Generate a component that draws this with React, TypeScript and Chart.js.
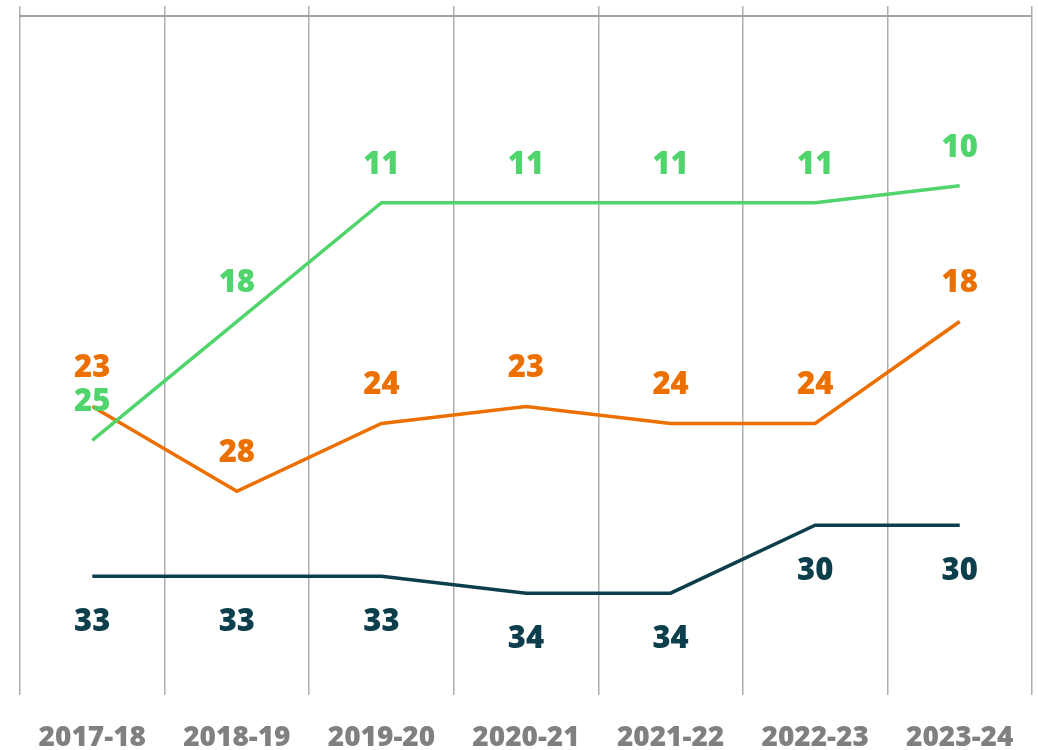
import React, { useEffect, useRef } from "react";
import { Chart, registerables } from "chart.js";

Chart.register(...registerables);

const categories = ["2017-18", "2018-19", "2019-20", "2020-21", "2021-22", "2022-23", "2023-24"];
const greenValues = [25, 18, 11, 11, 11, 11, 10];
const orangeValues = [23, 28, 24, 23, 24, 24, 18];
const darkValues = [33, 33, 33, 34, 34, 30, 30];

const GREEN = "#50D46C";
const ORANGE = "#EC7000";
const DARK = "#0C3F4B";
const FONT = "'Open Sans', Lato, sans-serif";

const labelPlugin = {
  id: "pointLabels",
  afterDatasetsDraw(chart: any) {
    const ctx = chart.ctx;
    ctx.save();
    ctx.font = `800 31px ${FONT}`;
    ctx.textAlign = "center";
    ctx.textBaseline = "middle";
    chart.data.datasets.forEach((ds: any, i: number) => {
      const meta = chart.getDatasetMeta(i);
      ctx.fillStyle = ds.borderColor;
      const off = ds.labelOffset as number;
      meta.data.forEach((el: any, j: number) => {
        ctx.fillText(String(ds.data[j]), el.x, el.y + off);
      });
    });
    ctx.restore();
  },
};

export default function App() {
  const ref = useRef<HTMLCanvasElement>(null);
  useEffect(() => {
    document.body.style.margin = "0";
    const chart = new Chart(ref.current!, {
      type: "line",
      data: {
        labels: categories,
        datasets: [
          { data: greenValues, borderColor: GREEN, borderWidth: 3.5, pointRadius: 0, tension: 0, labelOffset: -38 } as any,
          { data: orangeValues, borderColor: ORANGE, borderWidth: 3.5, pointRadius: 0, tension: 0, labelOffset: -38 } as any,
          { data: darkValues, borderColor: DARK, borderWidth: 3.5, pointRadius: 0, tension: 0, labelOffset: 46 } as any,
        ],
      },
      options: {
        animation: false,
        responsive: false,
        layout: { padding: { left: 20, right: 6, top: 6, bottom: 0 } },
        plugins: { legend: { display: false }, tooltip: { enabled: false } },
        scales: {
          x: {
            type: "category",
            position: "bottom",
            offset: true,
            grid: { display: false, drawTicks: false },
            border: { display: false },
            ticks: {
              color: "#808080",
              padding: 29,
              maxRotation: 0,
              font: { family: FONT, size: 28, weight: "800", lineHeight: 1 },
            },
            afterFit: (s: any) => {
              s.height = 55;
              s.paddingLeft = 0;
              s.paddingRight = 0;
            },
          },
          x2: {
            type: "category",
            position: "top",
            offset: true,
            grid: { display: true, offset: true, color: "#AEAEAE", lineWidth: 1.5, drawTicks: true, tickLength: 10 },
            border: { display: true, color: "#A3A3A3", width: 2 },
            ticks: { display: false },
          },
          y: {
            display: false,
            min: 0,
            max: 40,
            reverse: true,
          },
        },
      },
      plugins: [labelPlugin],
    } as any);
    return () => chart.destroy();
  }, []);
  return (
    <div style={{ width: 1038, height: 750 }}>
      <canvas ref={ref} width={1038} height={750} />
    </div>
  );
}
